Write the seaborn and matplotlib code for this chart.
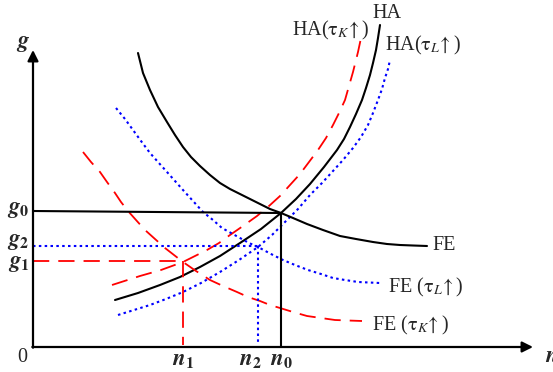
import numpy as np
import pandas as pd
import matplotlib
matplotlib.use('Agg')
import matplotlib.pyplot as plt
import seaborn as sns

sns.set_style('white')
plt.rcParams['font.family'] = ['Liberation Serif', 'DejaVu Serif']
plt.rcParams['mathtext.fontset'] = 'stix'

# curves (n along x, g along y, origin at the axes corner)
ha_n = [82, 105, 127, 147, 167, 187, 207, 228, 248, 263, 277, 291, 304, 311, 317, 323, 329, 333, 337, 340, 343, 345, 347]
ha_g = [47, 54, 62, 70, 80, 91, 104, 118, 134, 148, 163, 180, 197, 208, 220, 233, 247, 259, 272, 284, 297, 309, 322]

ha_k_n = [79, 107, 128, 150, 162, 174, 186, 197, 210, 224, 236, 247, 257, 267, 276, 285, 293, 300, 306, 312, 316, 320, 325, 328]
ha_k_g = [62, 71, 77, 85, 91, 97, 104, 112, 121, 131, 141, 151, 162, 173, 185, 197, 209, 222, 234, 247, 261, 275, 295, 309]

ha_l_n = [85, 101, 117, 133, 150, 168, 187, 206, 225, 239, 252, 265, 277, 289, 300, 310, 320, 328, 335, 340, 345, 349, 352, 355, 357]
ha_l_g = [32, 37, 42, 48, 55, 64, 75, 87, 100, 112, 125, 138, 152, 164, 176, 187, 199, 210, 222, 234, 247, 258, 269, 278, 287]

fe_n = [105, 110, 117, 125, 134, 142, 150, 158, 167, 177, 187, 197, 207, 217, 227, 237, 248, 260, 274, 290, 307, 323, 340, 354, 367, 380, 394]
fe_g = [294, 274, 257, 240, 225, 212, 200, 190, 181, 172, 164, 158, 153, 148, 143, 138, 134, 129, 123, 117, 111, 108, 105, 103, 102, 101.5, 101]

fe_l_n = [83, 92, 100, 108, 117, 125, 134, 142, 150, 160, 170, 180, 189, 198, 207, 216, 225, 238, 250, 262, 275, 288, 300, 312, 325, 336, 347]
fe_l_g = [239, 228, 217, 206, 194, 185, 175, 166, 157, 146, 135, 127, 119, 114, 109, 104, 100, 93, 87, 82, 77, 73, 69, 67, 65, 64.5, 64]

fe_k_n = [50, 58, 67, 74, 82, 88, 95, 103, 112, 122, 132, 141, 150, 163, 177, 190, 204, 215, 227, 237, 247, 260, 274, 288, 302, 315, 329]
fe_k_g = [195, 185, 175, 165, 154, 145, 136, 127, 117, 108, 99, 92, 85, 76, 67, 61, 55, 50, 46, 42, 39, 35, 31, 29, 27, 26.5, 26]

# equilibria
n0, g0 = 248, 134
n1, g1 = 150, 86
n2, g2 = 225, 101
g0_axis = 136  # g0 line is a touch higher at the axis

red = '#ff0000'
blue = '#0000ff'
dash = (0, (9, 5))
dot = (0, (1.2, 1.6))

fig = plt.figure(figsize=(5.53, 3.72), dpi=100)
ax = fig.add_axes([0, 0, 1, 1])

def curve(n, g, **kw):
    sns.lineplot(x=n, y=g, sort=False, estimator=None, ax=ax, **kw)

curve(ha_n, ha_g, color='k', lw=1.5)
curve(ha_k_n, ha_k_g, color=red, lw=1.3, linestyle=dash)
curve(ha_l_n, ha_l_g, color=blue, lw=1.5, linestyle=dot)
curve(fe_n, fe_g, color='k', lw=1.5)
curve(fe_l_n, fe_l_g, color=blue, lw=1.5, linestyle=dot)
curve(fe_k_n, fe_k_g, color=red, lw=1.3, linestyle=dash)

# guide lines
curve([0, n0], [g0_axis, g0], color='k', lw=1.5)
curve([n0, n0], [g0, 0], color='k', lw=1.5)
curve([0, n1], [g1, g1], color=red, lw=1.3, linestyle=dash)
curve([n1, n1], [g1, 2], color=red, lw=1.3, linestyle=dash)
curve([0, n2], [g2, g2], color=blue, lw=1.5, linestyle=dot)
curve([n2, n2], [g2, 2], color=blue, lw=1.5, linestyle=dot)

# axes with arrows
ax.annotate('', xy=(0, 297), xytext=(0, -0.7),
            arrowprops=dict(arrowstyle='-|>', lw=1.6, color='k', mutation_scale=16, shrinkA=0, shrinkB=0))
ax.annotate('', xy=(500, 0), xytext=(-0.7, 0),
            arrowprops=dict(arrowstyle='-|>', lw=1.6, color='k', mutation_scale=16, shrinkA=0, shrinkB=0))

fs = 14.5
bfs = 16.5
ax.text(-10, 303, r'$\mathbfit{g}$', fontsize=bfs, ha='center', va='center')
ax.text(-3, 137, r'$\mathbfit{g}_{\mathbf{0}}$', fontsize=bfs, ha='right', va='center')
ax.text(-3, 106, r'$\mathbfit{g}_{\mathbf{2}}$', fontsize=bfs, ha='right', va='center')
ax.text(-3, 84, r'$\mathbfit{g}_{\mathbf{1}}$', fontsize=bfs, ha='right', va='center')
ax.text(-11, -10, '0', fontsize=fs, ha='center', va='center')
ax.text(n1, -12, r'$\mathbfit{n}_{\mathbf{1}}$', fontsize=bfs, ha='center', va='center')
ax.text(n2 - 8, -12, r'$\mathbfit{n}_{\mathbf{2}}$', fontsize=bfs, ha='center', va='center')
ax.text(n0, -12, r'$\mathbfit{n}_{\mathbf{0}}$', fontsize=bfs, ha='center', va='center')
ax.text(512, -10, r'$\mathbfit{n}$', fontsize=bfs, ha='left', va='center')

ax.text(339, 334, 'HA', fontsize=fs, ha='left', va='center')
ax.text(259, 317, r'HA($\mathrm{\tau}_{K}\!\uparrow$)', fontsize=fs, ha='left', va='center')
ax.text(352, 302, r'HA($\mathrm{\tau}_{L}\!\uparrow$)', fontsize=fs, ha='left', va='center')
ax.text(399, 101, 'FE', fontsize=fs, ha='left', va='center')
ax.text(355, 60, r'FE ($\mathrm{\tau}_{L}\!\uparrow$)', fontsize=fs, ha='left', va='center')
ax.text(339, 22, r'FE ($\mathrm{\tau}_{K}\!\uparrow$)', fontsize=fs, ha='left', va='center')

ax.set_xlim(-33, 520)
ax.set_ylim(-25, 347)
ax.set_axis_off()

fig.savefig('out.png', dpi=100)
